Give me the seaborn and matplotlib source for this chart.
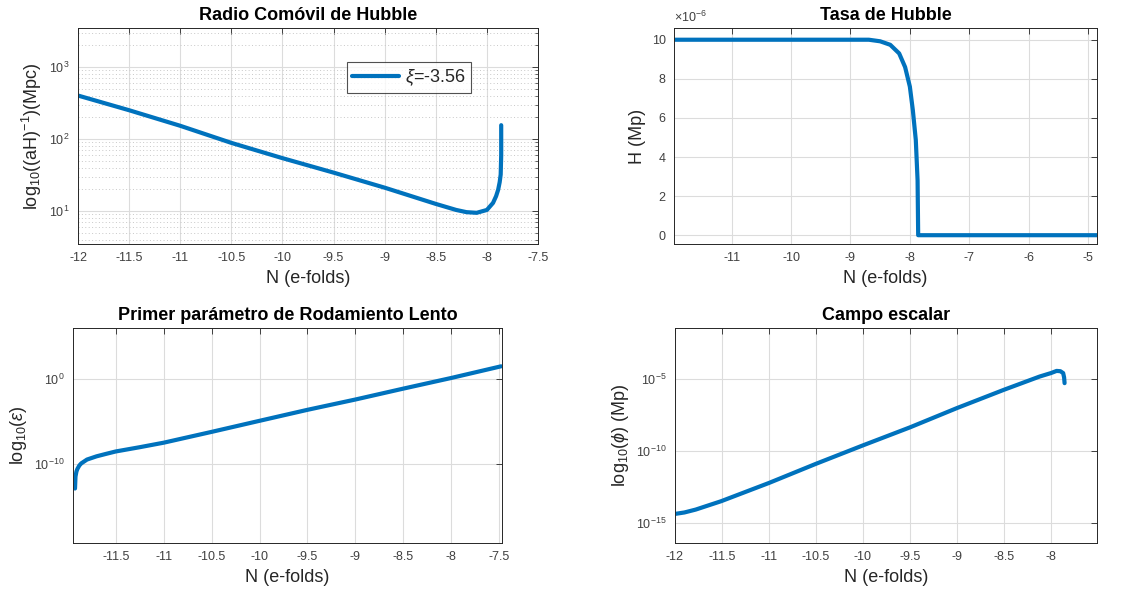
import numpy as np
import pandas as pd
import matplotlib
matplotlib.use("Agg")
import matplotlib.pyplot as plt
import matplotlib.ticker as mticker
import seaborn as sns

# ---------------- data ----------------
# Panel 1: Radio Comovil de Hubble  (value in Mpc, log axis)
N_hub = [-12.0, -11.5, -11.0, -10.5, -10.0, -9.5, -9.0, -8.5, -8.3, -8.2, -8.1,
         -8.0, -7.94, -7.91, -7.89, -7.875, -7.865, -7.86, -7.86]
R_hub = [400, 250, 152, 88, 54, 34, 21, 12.5, 10.3, 9.6, 9.4,
         10.3, 12.9, 16.0, 19.6, 25.0, 32.0, 60.0, 155.0]
legend_label = r"$\xi$=-3.56"

# Panel 2: Tasa de Hubble (H in units of 1e-6 Mp)
N_H = [-11.95, -8.69, -8.5, -8.33, -8.18, -8.08, -8.0, -7.95, -7.9, -7.87,
       -7.86, -4.85]
H_e6 = [10.0, 10.0, 9.92, 9.74, 9.3, 8.6, 7.6, 6.4, 4.87, 2.8,
        0.0, 0.0]

# Panel 3: Primer parametro de rodamiento lento (log10 epsilon)
N_eps = [-11.925, -11.92, -11.91, -11.9, -11.88, -11.86, -11.8, -11.7, -11.6,
         -11.5, -11.25, -11.0, -10.5, -10.0, -9.5, -9.0, -8.5, -8.0, -7.48]
log_eps = [-12.9, -11.5, -10.9, -10.6, -10.2, -9.95, -9.5, -9.12, -8.83,
           -8.55, -8.05, -7.52, -6.25, -4.95, -3.66, -2.45, -1.17, 0.08, 1.45]

# Panel 4: Campo escalar (log10 phi, Mp)
N_phi = [-12.0, -11.9, -11.78, -11.65, -11.51, -11.0, -10.5, -10.0, -9.5,
         -9.0, -8.5, -8.12, -8.0, -7.94, -7.9, -7.87, -7.86, -7.855]
log_phi = [-14.38, -14.28, -14.08, -13.8, -13.5, -12.23, -10.9, -9.62, -8.37,
           -7.03, -5.76, -4.84, -4.6, -4.45, -4.47, -4.6, -4.9, -5.3]

titles = ["Radio Comóvil de Hubble", "Tasa de Hubble",
          "Primer parámetro de Rodamiento Lento", "Campo escalar"]
xlabel = "N (e-folds)"
ylabels = [r"log$_{10}$((aH)$^{-1}$)(Mpc)", "H (Mp)",
           r"log$_{10}$($\epsilon$)", r"log$_{10}$($\phi$) (Mp)"]

# ---------------- style ----------------
sns.set_theme(style="white")
plt.rcParams["font.family"] = ["Liberation Sans", "DejaVu Sans"]
plt.rcParams["mathtext.fontset"] = "custom"
plt.rcParams["mathtext.rm"] = "Liberation Sans"
plt.rcParams["mathtext.it"] = "Liberation Sans:italic"
plt.rcParams["mathtext.bf"] = "Liberation Sans:bold"
plt.rcParams["axes.unicode_minus"] = False

BLUE = "#0072BD"
TICKC = "#404040"
GRIDC = "#dcdcdc"
LW = 3.0

W, Hh = 1147, 596
fig = plt.figure(figsize=(W / 100, Hh / 100), dpi=100)


def add_ax(l, r, t, b):
    return fig.add_axes([l / W, 1 - b / Hh, (r - l) / W, (b - t) / Hh])


ax1 = add_ax(78, 538, 28, 244)
ax2 = add_ax(674, 1097, 28, 244)
ax3 = add_ax(73, 502, 328, 543)
ax4 = add_ax(675, 1097, 328, 543)
axes = [ax1, ax2, ax3, ax4]

df1 = pd.DataFrame({"N": N_hub, "R": R_hub})
df2 = pd.DataFrame({"N": N_H, "H": H_e6})
df3 = pd.DataFrame({"N": N_eps, "eps": np.power(10.0, log_eps)})
df4 = pd.DataFrame({"N": N_phi, "phi": np.power(10.0, log_phi)})

sns.lineplot(data=df1, x="N", y="R", ax=ax1, color=BLUE, lw=LW, sort=False,
             estimator=None, label=legend_label)
sns.lineplot(data=df2, x="N", y="H", ax=ax2, color=BLUE, lw=LW, sort=False,
             estimator=None)
sns.lineplot(data=df3, x="N", y="eps", ax=ax3, color=BLUE, lw=LW, sort=False,
             estimator=None)
sns.lineplot(data=df4, x="N", y="phi", ax=ax4, color=BLUE, lw=LW, sort=False,
             estimator=None)

# log axes
for a in (ax1, ax3, ax4):
    a.set_yscale("log")

# limits
ax1.set_xlim(-12, -7.5)
ax1.set_ylim(10 ** 0.54, 10 ** 3.54)
ax2.set_xlim(-11.97, -4.85)
ax2.set_ylim(-0.45, 10.6)
ax3.set_xlim(-11.946, -7.47)
ax3.set_ylim(10 ** -19.3, 10 ** 5.95)
ax4.set_xlim(-12, -7.51)
ax4.set_ylim(10 ** -16.4, 10 ** -1.47)

# ticks
ax1.set_xticks(np.arange(-12, -7.49, 0.5))
ax1.set_xticklabels(["-12", "-11.5", "-11", "-10.5", "-10", "-9.5", "-9", "-8.5", "-8", "-7.5"])
ax1.set_yticks([1e1, 1e2, 1e3])
ax1.set_yticklabels([r"10$^{1}$", r"10$^{2}$", r"10$^{3}$"])
ax1.yaxis.set_minor_locator(mticker.LogLocator(base=10, subs=np.arange(2, 10), numticks=20))
ax1.yaxis.set_minor_formatter(mticker.NullFormatter())

ax2.set_xticks(np.arange(-11, -4.9, 1))
ax2.set_xticklabels(["-11", "-10", "-9", "-8", "-7", "-6", "-5"])
ax2.set_yticks([0, 2, 4, 6, 8, 10])
ax2.set_yticklabels(["0", "2", "4", "6", "8", "10"])

ax3.set_xticks(np.arange(-11.5, -7.49, 0.5))
ax3.set_xticklabels(["-11.5", "-11", "-10.5", "-10", "-9.5", "-9", "-8.5", "-8", "-7.5"])
ax3.set_yticks([1e-10, 1e0])
ax3.set_yticklabels([r"10$^{-10}$", r"10$^{0}$"])
ax3.yaxis.set_minor_locator(mticker.NullLocator())

ax4.set_xticks(np.arange(-12, -7.99, 0.5))
ax4.set_xticklabels(["-12", "-11.5", "-11", "-10.5", "-10", "-9.5", "-9", "-8.5", "-8"])
ax4.set_yticks([1e-15, 1e-10, 1e-5])
ax4.set_yticklabels([r"10$^{-15}$", r"10$^{-10}$", r"10$^{-5}$"])
ax4.yaxis.set_minor_locator(mticker.NullLocator())

for a, t, yl in zip(axes, titles, ylabels):
    a.set_title(t, fontsize=13, fontweight="bold", color="black", pad=6)
    a.set_xlabel(xlabel, fontsize=13, color="#262626", labelpad=4)
    a.set_ylabel(yl, fontsize=13, color="#262626", labelpad=4)
    a.tick_params(axis="both", which="major", direction="in", length=4,
                  width=0.6, colors="#262626", labelcolor=TICKC, labelsize=9,
                  top=True, right=True, pad=6)
    a.tick_params(axis="both", which="minor", direction="in", length=2,
                  width=0.5, colors="#262626", top=True, right=True)
    a.grid(True, which="major", color=GRIDC, lw=0.8)
    a.set_axisbelow(True)
    for s in a.spines.values():
        s.set_color("#262626")
        s.set_linewidth(0.7)
        s.set_visible(True)

ax1.grid(True, which="minor", axis="y", color="#c8c8c8", lw=0.7, ls=(0, (1, 2.5)))

# offset text panel 2
ax2.text(0.0, 1.015, r"$\times$10$^{-6}$", transform=ax2.transAxes,
         fontsize=9, color=TICKC, ha="left", va="bottom")

# legend panel 1
leg = ax1.legend(loc="upper right", bbox_to_anchor=(0.854, 0.843), fontsize=13,
                 frameon=True, fancybox=False, handlelength=2.6,
                 handletextpad=0.3, borderpad=0.3, borderaxespad=0)
leg.get_frame().set_edgecolor("#262626")
leg.get_frame().set_linewidth(0.8)

fig.savefig("out.png", dpi=100)
